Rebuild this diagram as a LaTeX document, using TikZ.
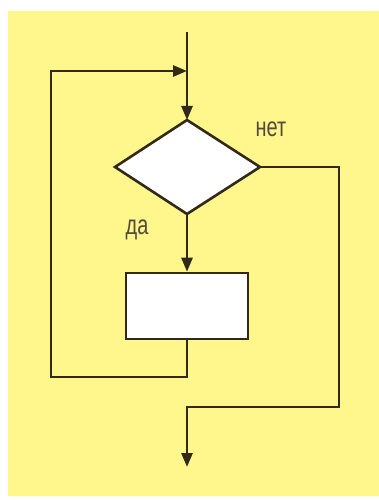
\documentclass[tikz,border=0pt]{standalone}
\usepackage{fontspec}
\setmainfont{Liberation Sans}
\usetikzlibrary{arrows.meta,shapes.geometric}
\definecolor{bg}{RGB}{255,246,140}
\definecolor{ln}{RGB}{50,42,25}
\tikzset{
  flow/.style={draw=ln,line width=2.6pt,line join=miter},
  arr/.style={flow,-{Triangle[length=14pt,width=11pt]}},
  lbl/.style={font=\fontsize{21}{21}\selectfont,text=ln!85,inner sep=0pt},
}
\begin{document}
\begin{tikzpicture}[x=1pt,y=-1pt]
\useasboundingbox (0,0) rectangle (379,500);
\fill[white] (0,0) rectangle (379,500);
\fill[bg] (8,11) rectangle (379,496);
\coordinate (top) at (187,32);
\coordinate (merge) at (187,71);
\coordinate (lt) at (51,71);
\coordinate (lb) at (51,377);
\coordinate (rb) at (187,377);
\coordinate (rt) at (339,167);
\coordinate (rd) at (339,407);
\coordinate (bd) at (187,407);
\coordinate (end) at (187,467);
\draw[flow,fill=white] (187,120) coordinate (dtop) -- (260,167) coordinate (dright) -- (187,214) coordinate (dbot) -- (115,167) coordinate (dleft) -- cycle;
\node[flow,fill=white,draw,minimum width=122pt,minimum height=66pt,inner sep=0pt] (box) at (187,306) {};
\draw[flow] (top) -- (merge);
\draw[arr] (merge) -- (dtop);
\draw[arr] (box.south) -- (rb) -- (lb) -- (lt) -- (merge);
\draw[arr] (dbot) -- (box.north);
\draw[arr] (dright) -- (rt) -- (rd) -- (bd) -- (end);
\node[lbl] (net) at (271,129) {\scalebox{0.95}[1.3]{нет}};
\node[lbl] (da) at (137,230) {\scalebox{0.95}[1.3]{да}};
\end{tikzpicture}
\end{document}
